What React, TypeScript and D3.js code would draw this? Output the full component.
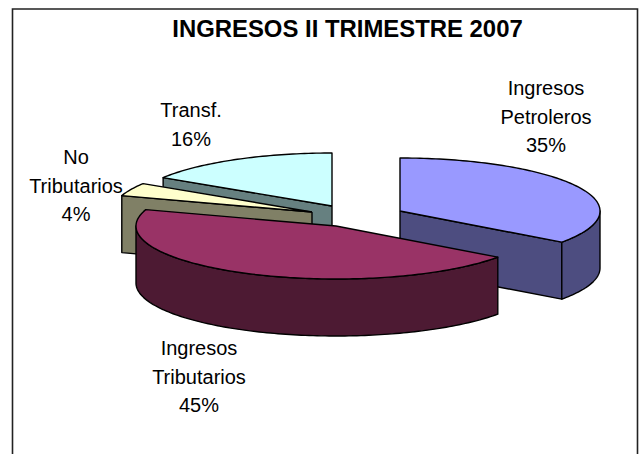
import React from "react";
import * as d3 from "d3";

const categories = ["Ingresos Petroleros", "Ingresos Tributarios", "No Tributarios", "Transf."];
const shares = [35, 45, 4, 16];
const topColors = ["#9999ff", "#993366", "#ffffcc", "#ccffff"];
const sideColors = ["#4d4d80", "#4d1a33", "#808066", "#668080"];
const labelLines = [["Ingresos", "Petroleros", "35%"], ["Ingresos", "Tributarios", "45%"], ["No", "Tributarios", "4%"], ["Transf.", "16%"]];
const labelPos = [[546, 95], [199, 355], [76, 164], [191, 117]];
const apexes = [[400, 211], [336, 226], [312, 212], [332, 206]];
const title = "INGRESOS II TRIMESTRE 2007";

const RX = 200, RY = 53, DEPTH = 57;
const drawOrder = [3, 2, 0, 1];
const FONT = "'Liberation Sans', Arial, sans-serif";

const arcs = d3.pie<number>().sort(null).value((d) => d)(shares);
const line = d3.line();

function pt(i: number, a: number, dy = 0): [number, number] {
  const [cx, cy] = apexes[i];
  return [cx + RX * Math.sin(a), cy - RY * Math.cos(a) + dy];
}
function samples(a0: number, a1: number) {
  const n = Math.max(2, Math.ceil(Math.abs(a1 - a0) / 0.02));
  return d3.range(n + 1).map((k) => a0 + ((a1 - a0) * k) / n);
}

function Slice({ i }: { i: number }) {
  const { startAngle: s, endAngle: e } = arcs[i];
  const [cx, cy] = apexes[i];
  const apex: [number, number] = [cx, cy];
  const apexLow: [number, number] = [cx, cy + DEPTH];
  const top = [apex, ...samples(s, e).map((a) => pt(i, a)), apex];
  const cut = (a: number) => [apex, pt(i, a), pt(i, a, DEPTH), apexLow, apex] as [number, number][];
  // only the faces turned towards the viewer are drawn
  const showStart = Math.sin(s) < -1e-6;
  const showEnd = Math.sin(e) > 1e-6;
  const w0 = Math.max(s, Math.PI / 2), w1 = Math.min(e, (3 * Math.PI) / 2);
  const wallPts = w1 > w0
    ? [...samples(w0, w1).map((a) => pt(i, a)), ...samples(w1, w0).map((a) => pt(i, a, DEPTH))]
    : null;
  const stroke = { stroke: "#000", strokeWidth: 1.4, strokeLinejoin: "round" as const };
  return (
    <g>
      {showStart && <path d={line(cut(s))!} fill={sideColors[i]} {...stroke} />}
      {showEnd && <path d={line(cut(e))!} fill={sideColors[i]} {...stroke} />}
      {wallPts && <path d={line(wallPts)! + "Z"} fill={sideColors[i]} {...stroke} />}
      <path d={line(top)!} fill={topColors[i]} {...stroke} />
    </g>
  );
}

export default function App() {
  return (
    <svg width={643} height={454} style={{ position: "absolute", left: 0, top: 0 }} fontFamily={FONT}>
      <rect width={643} height={454} fill="#fff" />
      <path d="M12.5,454V9H637.5V454" fill="none" stroke="#222" strokeWidth={1.6} />
      <text x={347.5} y={37} textAnchor="middle" fontSize={23.9} fontWeight={700} fill="#000">{title}</text>
      {drawOrder.map((i) => <Slice key={categories[i]} i={i} />)}
      {labelLines.map((ls, i) => (
        <text key={categories[i]} textAnchor="middle" fontSize={20} fill="#000">
          {ls.map((t, k) => (
            <tspan key={k} x={labelPos[i][0]} y={labelPos[i][1] + k * 28.5}>{t}</tspan>
          ))}
        </text>
      ))}
    </svg>
  );
}
